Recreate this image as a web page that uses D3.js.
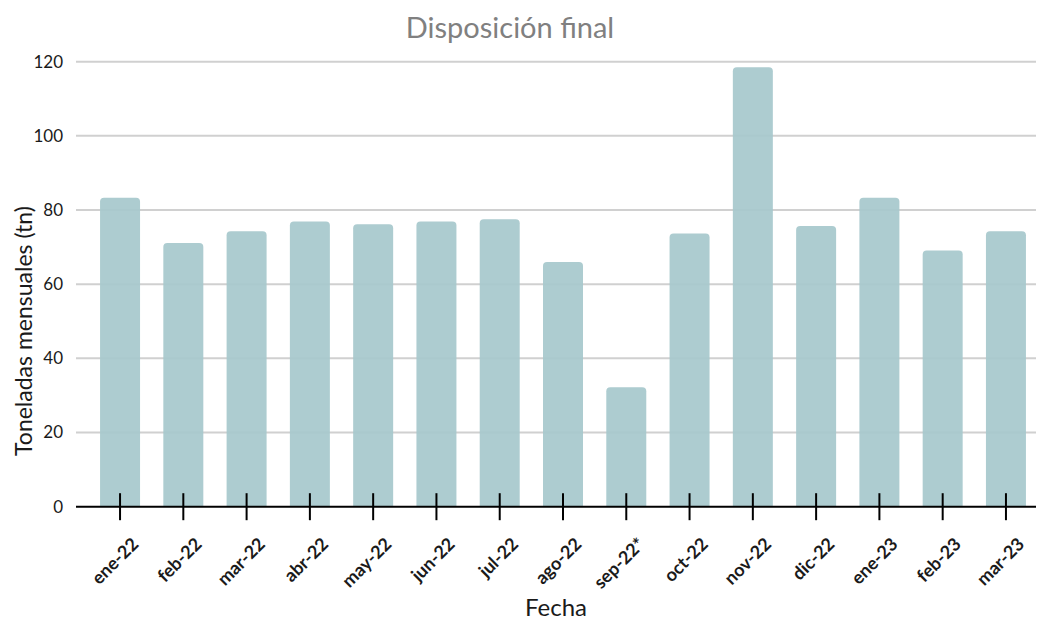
<!DOCTYPE html>
<html>
<head>
<meta charset="utf-8">
<script src="https://cdn.jsdelivr.net/npm/d3@7"></script>
<style>
  html, body { margin: 0; padding: 0; background: #ffffff; }
  svg { display: block; font-family: Lato, "Open Sans", sans-serif; }
</style>
</head>
<body>
<svg id="chart" width="1038" height="621"></svg>
<script>
// Monthly tonnage sent to final disposal
const months = ["ene-22", "feb-22", "mar-22", "abr-22", "may-22", "jun-22", "jul-22",
                "ago-22", "sep-22*", "oct-22", "nov-22", "dic-22", "ene-23", "feb-23", "mar-23"];
const tonnes = [83.3, 71.1, 74.3, 76.9, 76.2, 76.9, 77.5, 66.0, 32.2, 73.7, 118.5, 75.7, 83.3, 69.1, 74.3];
const yTicks = [0, 20, 40, 60, 80, 100, 120];

const svg = d3.select("#chart");

const plot = { left: 76, right: 1036, top: 61.7, bottom: 506.7 };

const y = d3.scaleLinear().domain([0, 120]).range([plot.bottom, plot.top]);
const x = d3.scaleBand()
  .domain(months)
  .range([88.4, 1037.6])
  .paddingInner(0.368)
  .paddingOuter(0.184);

// Title
svg.append("text")
  .attr("x", 510).attr("y", 38)
  .attr("text-anchor", "middle")
  .attr("font-size", 29)
  .attr("fill", "#808080")
  .text("Disposición final");

// Horizontal gridlines (behind the bars)
svg.append("g")
  .selectAll("line")
  .data(yTicks.filter(d => d > 0))
  .join("line")
  .attr("x1", plot.left).attr("x2", plot.right)
  .attr("y1", d => y(d)).attr("y2", d => y(d))
  .attr("stroke", "#d0d0d0")
  .attr("stroke-width", 2);

// Y axis labels
const yAxis = d3.axisLeft(y).tickValues(yTicks).tickSize(0).tickPadding(0);
const gy = svg.append("g")
  .attr("transform", `translate(63,0)`)
  .call(yAxis);
gy.select(".domain").remove();
gy.selectAll("text")
  .attr("font-family", "Lato, 'Open Sans', sans-serif")
  .attr("font-size", 17)
  .attr("fill", "#1a1a1a");

// Bars with softly rounded top corners
const r = 4;
function barPath(d, i) {
  const x0 = x(months[i]), w = x.bandwidth();
  const yt = y(d), yb = y(0);
  return `M${x0},${yb} L${x0},${yt + r} Q${x0},${yt} ${x0 + r},${yt} ` +
         `L${x0 + w - r},${yt} Q${x0 + w},${yt} ${x0 + w},${yt + r} L${x0 + w},${yb} Z`;
}
svg.append("g")
  .selectAll("path")
  .data(tonnes)
  .join("path")
  .attr("d", barPath)
  .attr("fill", "#a6c8cc")
  .attr("fill-opacity", 0.92);

// X axis: baseline, crossing ticks and rotated month labels
svg.append("line")
  .attr("x1", plot.left).attr("x2", plot.right)
  .attr("y1", y(0)).attr("y2", y(0))
  .attr("stroke", "#000")
  .attr("stroke-width", 2);

const xAxis = d3.axisBottom(x).tickSizeInner(13.5).tickSizeOuter(0).tickPadding(0);
const gx = svg.append("g")
  .attr("transform", `translate(0,${y(0)})`)
  .call(xAxis);
gx.select(".domain").remove();
gx.selectAll(".tick line")
  .attr("y1", -13.5)
  .attr("stroke", "#000")
  .attr("stroke-width", 2);
gx.selectAll(".tick text")
  .attr("font-family", "Lato, 'Open Sans', sans-serif")
  .attr("font-size", 18)
  .attr("font-weight", "bold")
  .attr("fill", "#1a1a1a")
  .attr("text-anchor", "end")
  .attr("dy", null)
  .attr("transform", "translate(10,29) rotate(-45)");

// Axis titles
svg.append("text")
  .attr("x", 556).attr("y", 616)
  .attr("text-anchor", "middle")
  .attr("font-size", 24)
  .attr("fill", "#1a1a1a")
  .text("Fecha");

svg.append("text")
  .attr("transform", "translate(32,331) rotate(-90)")
  .attr("text-anchor", "middle")
  .attr("font-size", 23)
  .attr("fill", "#1a1a1a")
  .text("Toneladas mensuales (tn)");
</script>
</body>
</html>
